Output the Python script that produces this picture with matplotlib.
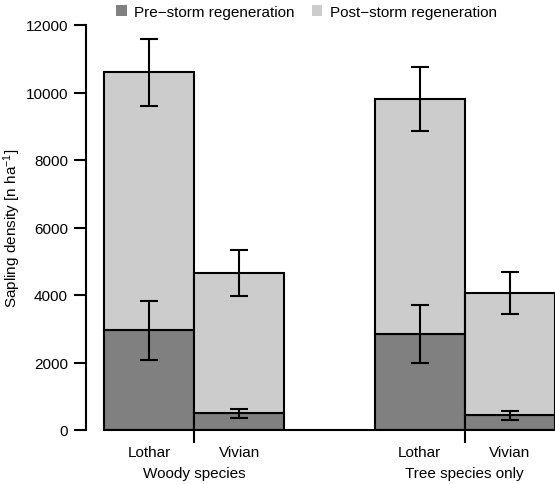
import matplotlib
matplotlib.use('Agg')
import matplotlib.pyplot as plt
import matplotlib.transforms as mtransforms
from matplotlib.patches import Patch

plt.rcParams['font.family'] = ['Liberation Sans', 'DejaVu Sans']
plt.rcParams['font.size'] = 11
plt.rcParams['mathtext.fontset'] = 'custom'
plt.rcParams['mathtext.rm'] = 'Liberation Sans'
plt.rcParams['mathtext.it'] = 'Liberation Sans:italic'

# values
groups = ['Woody species', 'Tree species only']
storms = ['Lothar', 'Vivian', 'Lothar', 'Vivian']
pre = [2950, 490, 2850, 430]
pre_err = [870, 135, 860, 135]
total = [10600, 4650, 9800, 4050]
total_err = [1000, 680, 950, 620]
post = [t - p for t, p in zip(total, pre)]

xpos = [0, 1, 3, 4]
dark = '#808080'
light = '#cccccc'

fig = plt.figure(figsize=(5.55, 4.85), dpi=100)
ax = fig.add_axes([86 / 555, 1 - 431 / 485, 1 - 86 / 555, 405 / 485])

ax.bar(xpos, pre, width=1, color=dark, edgecolor='black', linewidth=1.5, zorder=2)
ax.bar(xpos, post, bottom=pre, width=1, color=light, edgecolor='black', linewidth=1.5, zorder=2)
ax.errorbar(xpos, pre, yerr=pre_err, fmt='none', ecolor='black', elinewidth=1.5,
            capsize=6.5, capthick=1.5, zorder=3)
ax.errorbar(xpos, total, yerr=total_err, fmt='none', ecolor='black', elinewidth=1.5,
            capsize=6.5, capthick=1.5, zorder=3)

ax.set_xlim(-0.7, 4.5)
ax.set_ylim(0, 12000)
ax.plot([-0.5, 4.5], [0, 0], color='black', lw=1.5, clip_on=False, zorder=4)

for s in ['top', 'right', 'bottom']:
    ax.spines[s].set_visible(False)
ax.spines['left'].set_linewidth(1.5)
ax.set_yticks([0, 2000, 4000, 6000, 8000, 10000, 12000])
ax.tick_params(axis='y', length=9, width=1.5, labelsize=11, pad=4)

ax.set_xticks(xpos)
ax.set_xticklabels(storms)
ax.tick_params(axis='x', which='major', length=0, pad=11, labelsize=11)
ax.set_xticks([0.5, 3.5], minor=True)
ax.tick_params(axis='x', which='minor', length=9, width=1.5)

trans = mtransforms.blended_transform_factory(ax.transData, fig.transFigure)
ax.text(0.5, 1 - 474 / 485, groups[0], transform=trans, ha='center', va='center', fontsize=11)
ax.text(3.5, 1 - 474 / 485, groups[1], transform=trans, ha='center', va='center', fontsize=11)

ax.set_ylabel('Sapling density [n ha$^{-1}$]', fontsize=11, labelpad=2)

handles = [Patch(facecolor=dark, edgecolor='none'), Patch(facecolor=light, edgecolor='none')]
fig.legend(handles, ['Pre\u2212storm regeneration', 'Post\u2212storm regeneration'],
           loc='center', bbox_to_anchor=(0.552, 1 - 13 / 485), ncol=2, frameon=False,
           handlelength=0.7, handleheight=0.7, handletextpad=0.5, columnspacing=1.1,
           fontsize=11)

fig.savefig('out.png', dpi=100)
